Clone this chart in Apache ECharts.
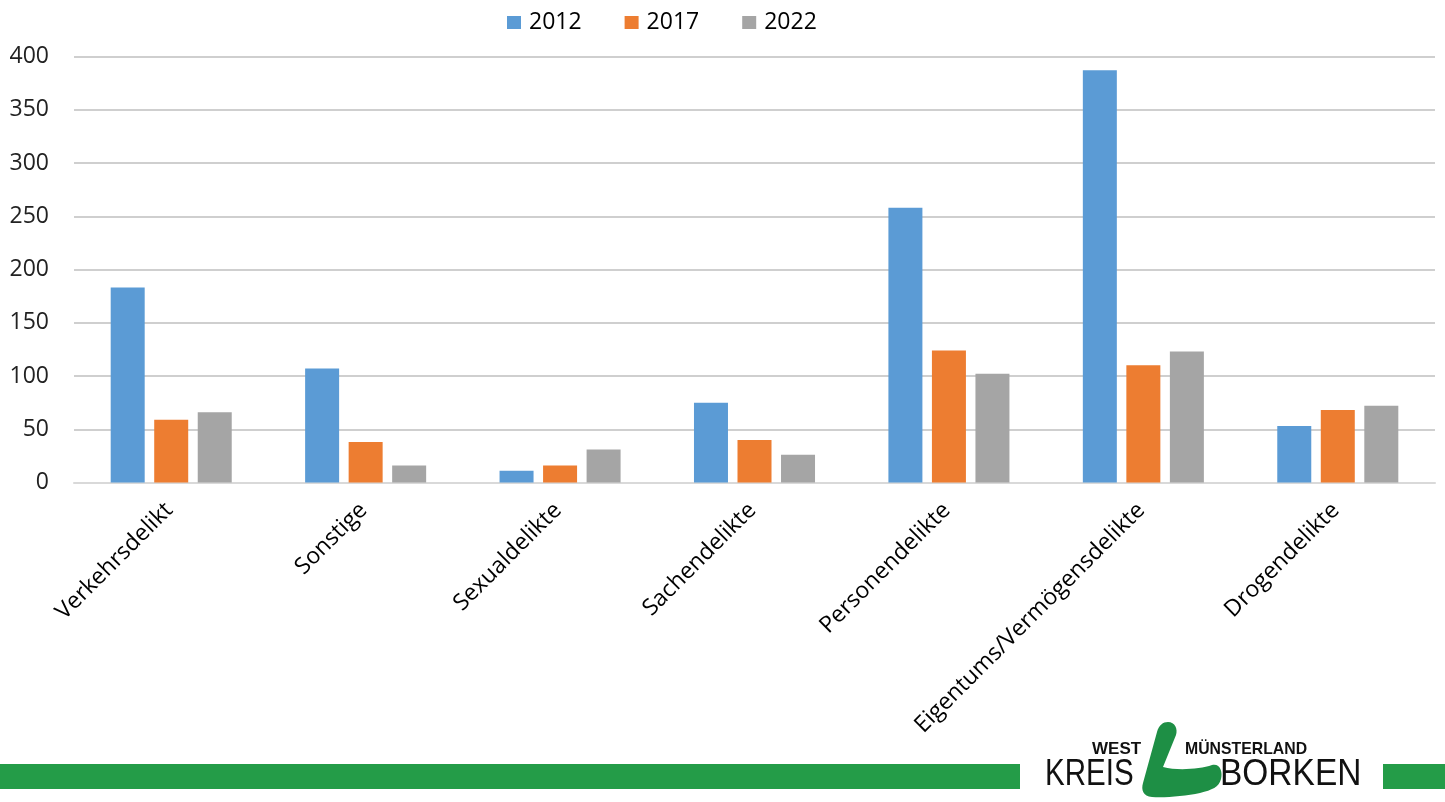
<!DOCTYPE html>
<html>
<head>
<meta charset="utf-8">
<script src="https://cdn.jsdelivr.net/npm/echarts@6/dist/echarts.min.js"></script>
<style>html,body{margin:0;padding:0;background:#fff}#c{width:1445px;height:802px}</style>
</head>
<body>
<div id="c"></div>
<script>
const categories = ['Verkehrsdelikt','Sonstige','Sexualdelikte','Sachendelikte','Personendelikte','Eigentums/Vermögensdelikte','Drogendelikte'];
const years = ['2012','2017','2022'];
const values2012 = [183, 107, 11, 75, 258, 387, 53];
const values2017 = [59, 38, 16, 40, 124, 110, 68];
const values2022 = [66, 16, 31, 26, 102, 123, 72];
const yTicks = { min: 0, max: 400, interval: 50 };
const colors = ['#5b9bd5', '#ed7d31', '#a5a5a5'];

const FONT = '"Open Sans", sans-serif';
const LOGO_PATH = 'M1168,722 C1175,722 1178,729 1176,735 L1163,767 C1178,771 1200,769 1212,765 C1220,763 1223,772 1221,779 C1219,787 1212,790 1200,793 C1185,796 1165,798 1152,797 C1143,796 1141,790 1143,783 L1157,732 C1159,725 1163,722 1168,722 Z';
echarts.graphic.registerShape('logoShape', echarts.graphic.extendPath(LOGO_PATH, {}));

const chart = echarts.init(document.getElementById('c'), null, { renderer: 'canvas' });
const seriesData = [values2012, values2017, values2022];
const LOGO_FONT_B = 'bold 17px "Liberation Sans Narrow", "Liberation Sans", sans-serif';
const LOGO_FONT = '36px "Liberation Sans Narrow", "Liberation Sans", sans-serif';
chart.setOption({
  animation: false,
  backgroundColor: '#ffffff',
  color: colors,
  textStyle: { fontFamily: FONT },
  legend: {
    top: 6, left: 502,
    itemWidth: 14, itemHeight: 13, itemGap: 43,
    icon: 'rect',
    textStyle: { fontSize: 23, color: '#000', fontFamily: FONT, padding: [0, 0, 0, 3] },
    data: years
  },
  grid: { left: 74, right: 10, top: 56.5, bottom: 319.5, containLabel: false },
  xAxis: {
    type: 'category',
    data: categories,
    axisLine: { lineStyle: { color: '#d9d9d9', width: 2 } },
    axisTick: { show: false },
    axisLabel: { rotate: 45, fontSize: 23, color: '#000', margin: 22, padding: [0, 3, 0, 0], fontFamily: FONT, interval: 0 }
  },
  yAxis: {
    type: 'value',
    min: yTicks.min, max: yTicks.max, interval: yTicks.interval,
    axisLine: { show: false },
    axisTick: { show: false },
    splitLine: { lineStyle: { color: '#bfbfbf', width: 1.5 } },
    axisLabel: { fontSize: 23, color: '#222', margin: 25, fontFamily: FONT }
  },
  series: years.map((y, i) => ({
    name: y, type: 'bar', data: seriesData[i],
    barWidth: 34, barGap: '28%',
    itemStyle: { color: colors[i] }
  })),
  graphic: [
    { type: 'rect', silent: true, shape: { x: 0, y: 764, width: 1020, height: 25 }, style: { fill: '#249c48' } },
    { type: 'rect', silent: true, shape: { x: 1383, y: 764, width: 62, height: 25 }, style: { fill: '#249c48' } },
    { type: 'logoShape', silent: true, style: { fill: '#1e8f45' } },
    { type: 'text', silent: true, x: 1092, y: 741, style: { text: 'WEST', font: LOGO_FONT_B, fill: '#111' } },
    { type: 'text', silent: true, x: 1185, y: 741, scaleX: 0.93, style: { text: 'MÜNSTERLAND', font: LOGO_FONT_B, fill: '#111' } },
    { type: 'text', silent: true, x: 1045, y: 757, scaleX: 0.82, style: { text: 'KREIS', font: LOGO_FONT, fill: '#111' } },
    { type: 'text', silent: true, x: 1220, y: 757, scaleX: 0.93, style: { text: 'BORKEN', font: LOGO_FONT, fill: '#111' } }
  ]
});
</script>
</body>
</html>
